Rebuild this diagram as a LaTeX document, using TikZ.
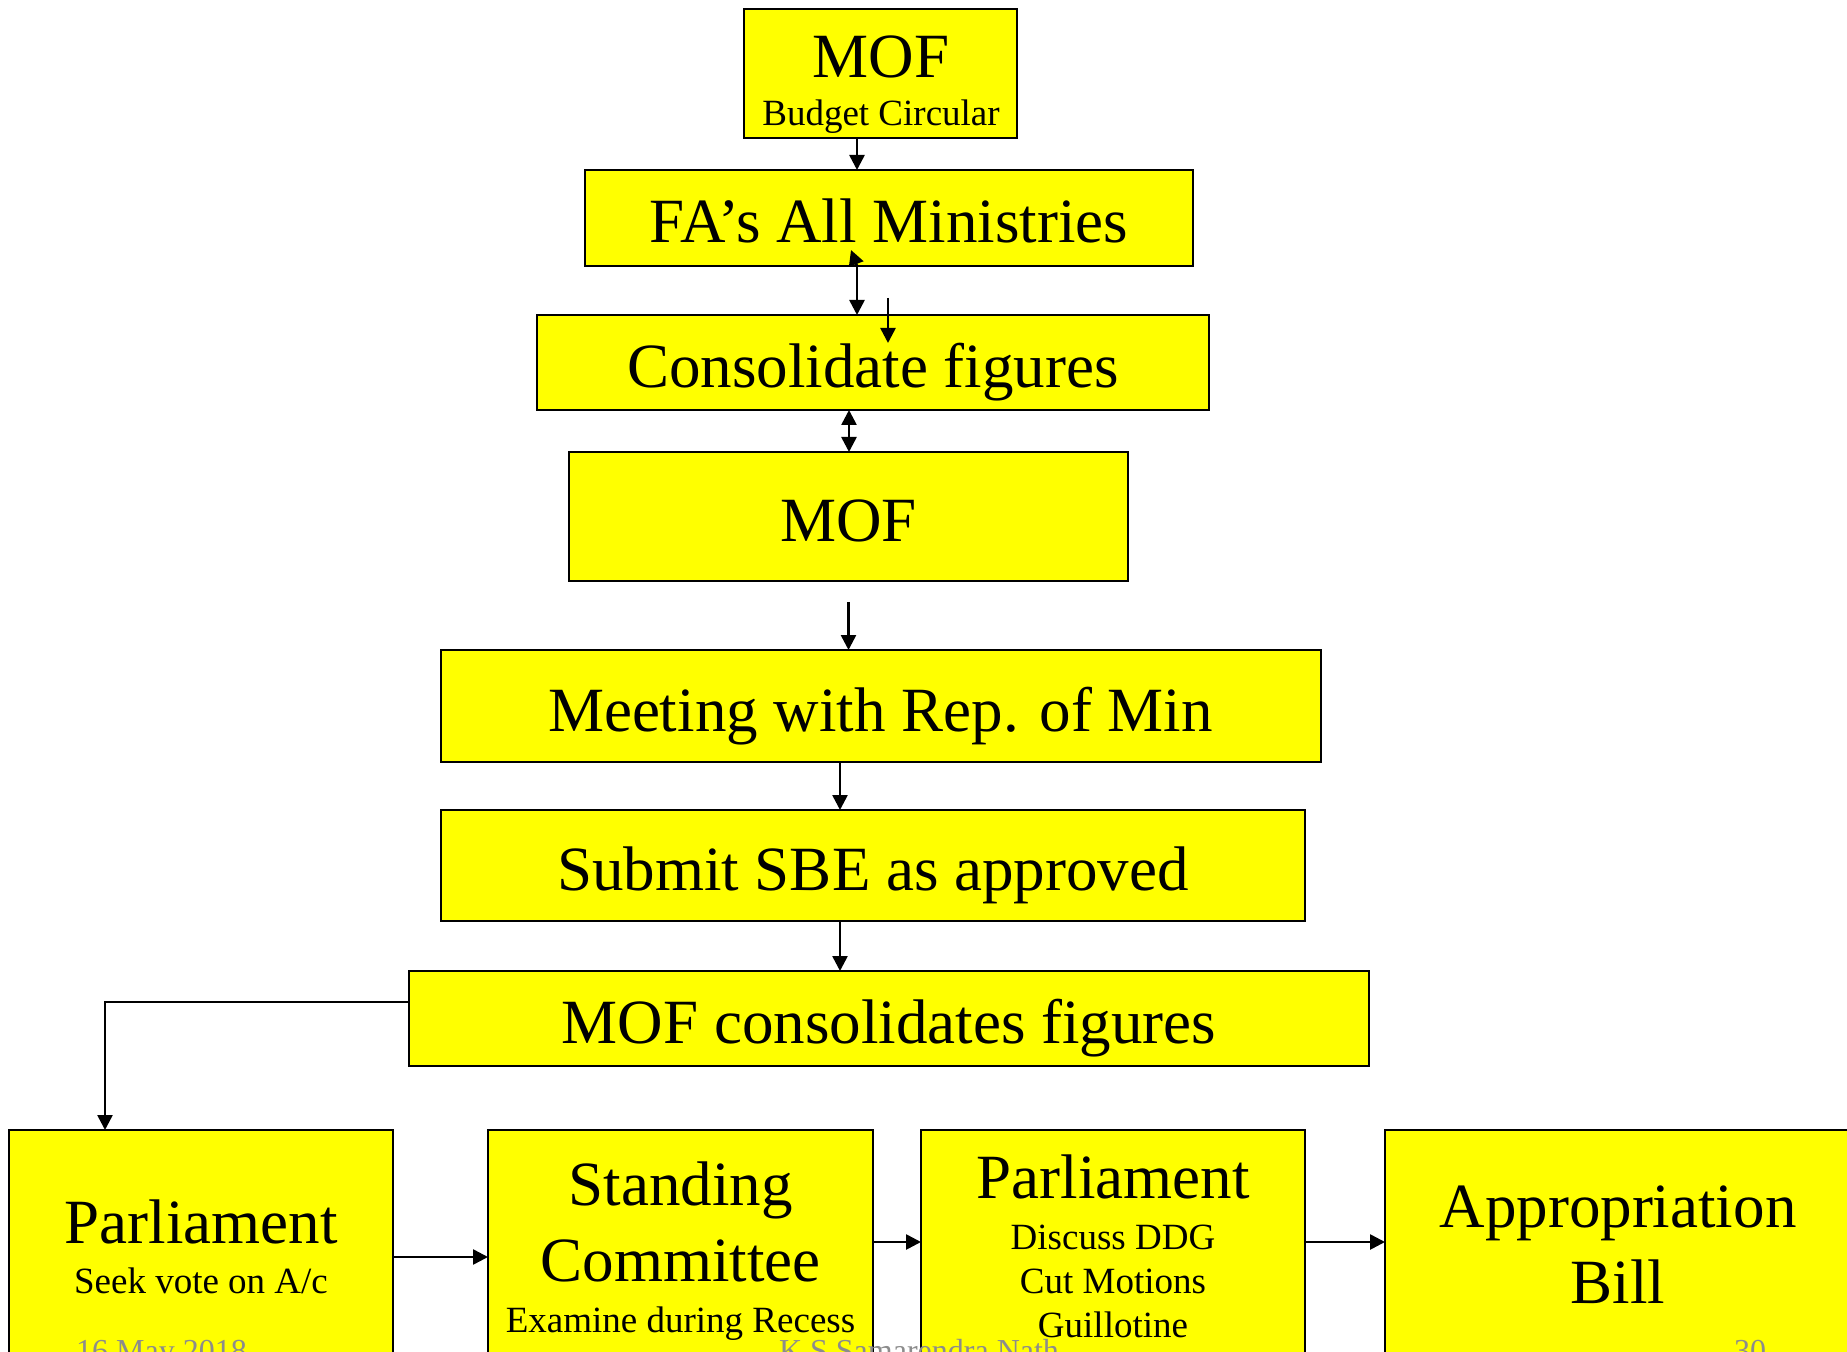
\documentclass[tikz,border=0pt]{standalone}
\usepackage{fontspec}
\setmainfont{Liberation Serif}
\usetikzlibrary{arrows.meta}
\definecolor{BoxYellow}{HTML}{FFFF00}
\definecolor{FootGray}{HTML}{8C8C8C}

\begin{document}
\begin{tikzpicture}[x=0.5pt, y=-0.5pt,
    box/.style={draw=black, line width=1pt, fill=BoxYellow, inner sep=0pt, outer sep=0pt},
    bigtext/.style={font=\fontsize{31.5pt}{37pt}\selectfont, text height=25pt, text depth=0pt},
    smalltext/.style={font=\fontsize{18.5pt}{22pt}\selectfont},
    foottext/.style={font=\fontsize{16pt}{19pt}\selectfont, text=FootGray},
    flow/.style={line width=1.3pt, -{Triangle[width=7.5pt,length=7.5pt]}},
    flowboth/.style={line width=1.3pt, {Triangle[width=7.5pt,length=7.5pt]}-{Triangle[width=7.5pt,length=7.5pt]}}]
    \useasboundingbox (0,0) rectangle (1847,1352);
    % Upper chain
    \node[box, minimum width=136.5pt, minimum height=64.5pt] (mofa) at (880.5,73.5) {};
    \node[bigtext, anchor=base] (mofatitle) at (881,78) {MOF};
    \node[smalltext, anchor=base] (mofasub) at (881,126) {Budget Circular};
    \node[box, bigtext, minimum width=304pt, minimum height=48pt] (fa) at (889,218) {FA’s All Ministries};
    \node[box, bigtext, minimum width=336pt, minimum height=47.5pt] (cons) at (873,362.5) {Consolidate figures};
    \node[box, bigtext, minimum width=279.5pt, minimum height=64.5pt] (mofb) at (848.5,516.5) {MOF};
    \node[box, bigtext, minimum width=440pt, minimum height=56pt] (meet) at (880.5,706) {Meeting with Rep. of Min};
    \node[box, bigtext, minimum width=432pt, minimum height=55.5pt] (sbe) at (873,865.5) {Submit SBE as approved};
    \node[box, bigtext, minimum width=480pt, minimum height=47.5pt] (mofc) at (889,1018.5) {MOF consolidates figures};
    % Parliament row
    \node[box, minimum width=192pt, minimum height=145pt] (parla) at (201,1275) {};
    \node[bigtext, anchor=base] (parlatitle) at (201,1243) {Parliament};
    \node[smalltext, anchor=base] (parlasub) at (201,1293) {Seek vote on A/c};
    \node[box, minimum width=192.5pt, minimum height=145pt] (stand) at (680.5,1275) {};
    \node[bigtext, anchor=base] (standtitle) at (680.5,1205) {Standing};
    \node[bigtext, anchor=base] (standtitleb) at (680.5,1281) {Committee};
    \node[smalltext, anchor=base] (standsub) at (680.5,1332) {Examine during Recess};
    \node[box, minimum width=192pt, minimum height=145pt] (parlb) at (1113,1275) {};
    \node[bigtext, anchor=base] (parlbtitle) at (1113,1198) {Parliament};
    \node[smalltext, anchor=base] (parlbsuba) at (1113,1249) {Discuss DDG};
    \node[smalltext, anchor=base] (parlbsubb) at (1113,1293) {Cut Motions};
    \node[smalltext, anchor=base] (parlbsubc) at (1113,1337) {Guillotine};
    \node[box, minimum width=257.5pt, minimum height=145pt] (appr) at (1642.5,1275) {};
    \node[bigtext, anchor=base] (apprtitle) at (1618,1227) {Appropriation};
    \node[bigtext, anchor=base] (apprtitleb) at (1618,1303) {Bill};
    % Arrows
    \draw[flow] ([xshift=-11.75pt]mofa.south) -- ([xshift=-11.75pt]mofa.south |- fa.north);
    \draw[flow] ([xshift=-16pt]fa.south) -- ([xshift=-16pt]fa.south |- cons.north);
    \draw[flow] ([xshift=-16pt]fa.south) -- ([xshift=-19pt,yshift=8pt]fa.south);
    \draw[flow] ([xshift=7.5pt,yshift=8.5pt]cons.north) -- ([xshift=7.5pt,yshift=-14pt]cons.north);
    \draw[flowboth] ([xshift=-12pt]cons.south) -- ([xshift=-12pt]cons.south |- mofb.north);
    \draw[flow] ([yshift=-10.5pt]mofb.south) -- (mofb.south |- meet.north);
    \draw[flow] ([xshift=-20.25pt]meet.south) -- ([xshift=-20.25pt]meet.south |- sbe.north);
    \draw[flow] ([xshift=-16.5pt]sbe.south) -- ([xshift=-16.5pt]sbe.south |- mofc.north);
    \draw[flow] ([yshift=8.25pt]mofc.west) -| ([xshift=-48pt]parla.north);
    \draw[flow] ([yshift=9pt]parla.east) -- ([yshift=9pt]parla.east -| stand.west);
    \draw[flow] ([yshift=16.5pt]stand.east) -- ([yshift=16.5pt]stand.east -| parlb.west);
    \draw[flow] ([yshift=16.5pt]parlb.east) -- ([yshift=16.5pt]parlb.east -| appr.west);
    % Footer
    \node[foottext, anchor=base] (date) at (161.5,1361) {16 May 2018};
    \node[foottext, anchor=base] (author) at (919,1361) {K S Samarendra Nath};
    \node[foottext, anchor=base] (page) at (1750,1361) {30};
\end{tikzpicture}
\end{document}
